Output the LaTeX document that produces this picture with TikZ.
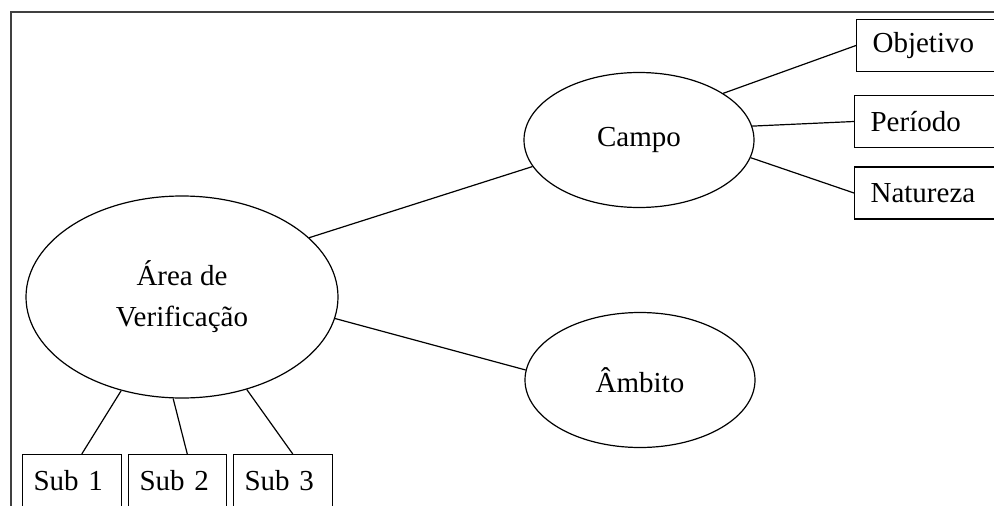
\documentclass[tikz,border=0pt]{standalone}
\usepackage{fontspec}
\setmainfont{Liberation Serif}
\usetikzlibrary{shapes.geometric}
\begin{document}
\begin{tikzpicture}[x=1pt,y=-1pt,line width=1.2pt,
    elip/.style={draw,ellipse,inner sep=0pt,align=center},
    caixa/.style={draw,rectangle,minimum height=52,inner ysep=0pt,align=left}]
    \fontsize{29}{41}\selectfont
    \useasboundingbox (0,0) rectangle (994,506);
    \clip (0,0) rectangle (994,506);
    % moldura
    \draw[line width=2.4pt,black!75] (11,560)--(11,12)--(1050,12);
    % elipses
    \node[elip,minimum width=312,minimum height=202] at (182,297) (area) {Área de\\Verificação};
    \node[elip,minimum width=230,minimum height=135] at (639,140) (campo) {Campo};
    \node[elip,minimum width=230,minimum height=135] at (640,380) (ambito) {Âmbito};
    % caixas
    \node[caixa,anchor=west,inner xsep=16,text width=120] at (856,45.5) (obj) {Objetivo};
    \node[caixa,anchor=west,inner xsep=16,text width=120] at (854,121.5) (per) {Período};
    \node[caixa,anchor=west,inner xsep=16,text width=120] at (854,193) (nat) {Natureza};
    \node[caixa,anchor=north west,inner xsep=11,text width=77] at (22,454) (s1) {Sub 1};
    \node[caixa,anchor=north west,inner xsep=11,text width=76] at (128,454) (s2) {Sub 2};
    \node[caixa,anchor=north west,inner xsep=11,text width=77] at (233,454) (s3) {Sub 3};
    % ligacoes
    \draw (area.25)--(campo.194);
    \draw (area.352)--(ambito.175);
    \draw (campo.29)--(obj.west);
    \draw (campo.7)--(per.west);
    \draw (campo.351)--(nat.west);
    \draw (area.237)--(s1.70);
    \draw (area.265)--(s2.70);
    \draw (area.305)--(s3.70);
\end{tikzpicture}
\end{document}
